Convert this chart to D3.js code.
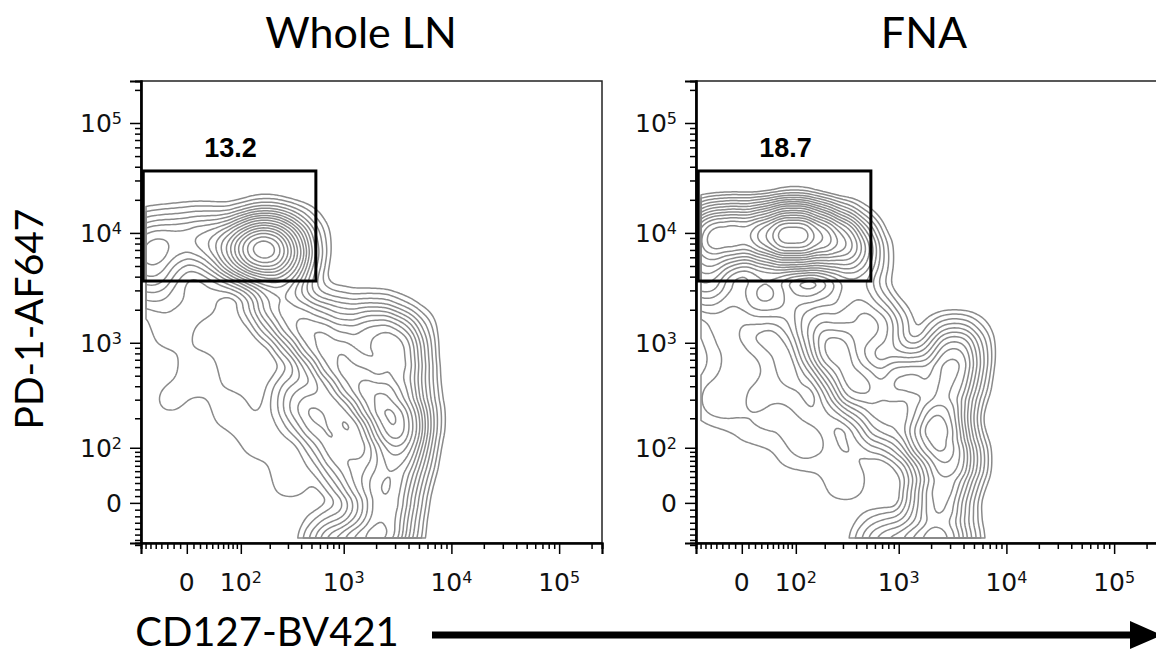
<!DOCTYPE html>
<html>
<head>
<meta charset="utf-8">
<script src="https://cdn.jsdelivr.net/npm/d3@7"></script>
<style>
  body { margin: 0; background: #fff; }
</style>
</head>
<body>
<svg id="chart"></svg>
<script>
// 1. Data
// 1.1. Axis ranges (fluorescence units) and ticks, logicle-like display
const cofactor = 70;
const xRange = [-80, 250000];
const yRange = [-66, 241000];
const majorTicks = [0, 100, 1000, 10000, 100000];
const majorBase = ["0", "10", "10", "10", "10"];
const majorExp = ["", "2", "3", "4", "5"];
const minorTicks = [
  -70, -60, -50, -40, -30, -20, -10,
  10, 20, 30, 40, 50, 60, 70, 80, 90,
  200, 300, 400, 500, 600, 700, 800, 900,
  2000, 3000, 4000, 5000, 6000, 7000, 8000, 9000,
  20000, 30000, 40000, 50000, 60000, 70000, 80000, 90000,
  200000
];

// 1.2. Panels
const titles = ["Whole LN", "FNA"];
const gateLabels = ["13.2", "18.7"];
const gateX = [-75, 550];
const gateY = [3650, 36600];

// 1.3. Population anchors (CD127, PD-1, weight)
const wholeLnX = [
  175, 125, 240, 85, 300, 36, -10, -61, -61, 349, 179,
  224, 349, 539, 829, 1273, 1950, 2690, 3190, 2690, 2420,
  2996, 3330, 3710, 1415, 744, 600, 389, 923, 1415, 1950, 3330,
  829, 1577, 2420,
  -26, 20, 74, -26, 159, 20, -52, 313
];
const wholeLnY = [
  6300, 7770, 7770, 6300, 5110, 8630, 8630, 7770, 4415, 8630, 10200,
  2455, 1617, 1062, 698, 457, 299, 172, 83, 19, -25,
  860, 457, 193, 1062, 1617, 193, 299, 95, 35, 1455, 1180,
  -70, -70, -70,
  1310, 565, 240, 299, 121, 2455, 3030, 35
];
const wholeLnW = [
  10, 6, 5, 4, 4, 3, 2, 3, 2, 2, 3,
  3, 3.5, 4, 5, 6, 7, 7, 6, 5, 4,
  5, 5, 5, 3, 2, 3, 2, 3, 3, 2.5, 2,
  3, 4, 3,
  0.4, 0.4, 0.4, 0.3, 0.4, 0.4, 0.5, 0.4
];

const fnaX = [
  92, 45, 167, 280, 4.5, -34, -61, 389, -61, 36, 97,
  250, 407, 600, 1143, 2420, 2996, 3330, 2996, 2420, 1752, 744, 159, 389,
  744, 1577, 2690,
  -26, 20, 74, -26, 159, -52, 313, -43, 20, -18, 97
];
const fnaY = [
  9170, 9170, 9170, 8630, 9600, 9600, 8630, 6300, 4100, 2840, 11800,
  860, 412, 1310, 457, 193, 457, 860, 72, 4.4, 121, 193, 1617, 2455,
  -70, -70, -70,
  1310, 565, 240, 299, 121, 2455, 35, 299, 172, 698, 95
];
const fnaW = [
  10, 7, 7, 5, 5, 5, 4, 3, 3, 2, 3,
  5, 5, 3, 5, 7, 5, 4, 6, 5, 4, 3, 2, 2,
  2, 3, 4,
  0.4, 0.4, 0.4, 0.3, 0.4, 0.5, 0.4, 0.4, 0.35, 0.3, 0.3
];

// contour levels as fraction of peak density
const levels = [0.012, 0.025, 0.045, 0.07, 0.1, 0.135, 0.175, 0.22, 0.27,
  0.33, 0.4, 0.47, 0.55, 0.63, 0.72, 0.82, 0.92];

// 2. SVG setup
const W = 1156, H = 662;
const svg = d3.select("#chart").attr("width", W).attr("height", H);

const panelLeft = [141, 696];
const panelTop = 81;
const panelW = 461, panelH = 462;

const tf = v => Math.asinh(v / cofactor);
const x = d3.scaleLinear().domain(xRange.map(tf)).range([0, panelW]);
const y = d3.scaleLinear().domain(yRange.map(tf)).range([panelH, 0]);

const labelFont = "'DejaVu Sans', sans-serif";
const bigFont = "Lato, 'Open Sans', sans-serif";

// 3. Panel drawing
function drawPanel(i, xs, ys, ws) {
  const g = svg.append("g")
    .attr("transform", `translate(${panelLeft[i]},${panelTop})`);

  // 3.1. Contours
  const pts = xs.map((d, k) => ({ x: d, y: ys[k], w: ws[k] }));
  const density = d3.contourDensity()
    .x(d => x(tf(d.x)))
    .y(d => y(tf(d.y)))
    .weight(d => d.w)
    .size([panelW, panelH])
    .cellSize(2)
    .bandwidth(16);
  const contours = density.contours(pts);
  const path = d3.geoPath(
    d3.geoIdentity().clipExtent([[5, 0], [panelW, panelH - 5]])
  );

  g.append("g")
    .selectAll("path")
    .data(levels.map(f => contours(f * contours.max)))
    .join("path")
    .attr("d", path)
    .attr("fill", "none")
    .attr("stroke", "#8a8a8a")
    .attr("stroke-width", 1.5)
    .attr("stroke-linejoin", "round");

  // 3.2. Frame
  g.append("rect")
    .attr("width", panelW).attr("height", panelH)
    .attr("fill", "none").attr("stroke", "#222").attr("stroke-width", 1.5);

  // 3.3. Axes
  const xAxisMinor = d3.axisBottom(x).tickValues(minorTicks.map(tf))
    .tickSize(6).tickFormat("");
  const xAxisMajor = d3.axisBottom(x).tickValues(majorTicks.map(tf))
    .tickSize(11).tickFormat("");
  const yAxisMinor = d3.axisLeft(y).tickValues(minorTicks.map(tf))
    .tickSize(6).tickFormat("");
  const yAxisMajor = d3.axisLeft(y).tickValues(majorTicks.map(tf))
    .tickSize(11).tickFormat("");

  [xAxisMinor, xAxisMajor].forEach(ax => {
    g.append("g").attr("transform", `translate(0,${panelH})`).call(ax)
      .call(s => s.select(".domain").attr("stroke-width", 2.2))
      .call(s => s.selectAll(".tick line").attr("stroke-width", 1.5));
  });
  [yAxisMinor, yAxisMajor].forEach(ax => {
    g.append("g").call(ax)
      .call(s => s.select(".domain").attr("stroke-width", 2.2))
      .call(s => s.selectAll(".tick line").attr("stroke-width", 1.5));
  });

  // 3.4. Tick labels with superscripts
  majorTicks.forEach((t, k) => {
    const tx = g.append("text")
      .attr("x", x(tf(t)))
      .attr("y", panelH + 48)
      .attr("text-anchor", "middle")
      .attr("font-family", labelFont)
      .attr("font-size", 25)
      .attr("fill", "#111");
    tx.append("tspan").text(majorBase[k]);
    if (majorExp[k]) {
      tx.append("tspan").attr("dy", "-0.5em").attr("font-size", 16).text(majorExp[k]);
    }

    const ty = g.append("text")
      .attr("x", -19)
      .attr("y", y(tf(t)))
      .attr("dy", "0.38em")
      .attr("text-anchor", "end")
      .attr("font-family", labelFont)
      .attr("font-size", 25)
      .attr("fill", "#111");
    ty.append("tspan").text(majorBase[k]);
    if (majorExp[k]) {
      ty.append("tspan").attr("dy", "-0.5em").attr("font-size", 16).text(majorExp[k]);
    }
  });

  // 3.5. Gate
  const gx0 = x(tf(gateX[0])), gx1 = x(tf(gateX[1]));
  const gy0 = y(tf(gateY[1])), gy1 = y(tf(gateY[0]));
  g.append("rect")
    .attr("x", gx0).attr("y", gy0)
    .attr("width", gx1 - gx0).attr("height", gy1 - gy0)
    .attr("fill", "none").attr("stroke", "#000").attr("stroke-width", 3);
  g.append("text")
    .attr("x", (gx0 + gx1) / 2 + 1)
    .attr("y", gy0 - 14)
    .attr("text-anchor", "middle")
    .attr("font-family", "'Liberation Sans', Arial, sans-serif")
    .attr("font-weight", "bold")
    .attr("font-size", 27)
    .text(gateLabels[i]);
}

drawPanel(0, wholeLnX, wholeLnY, wholeLnW);
drawPanel(1, fnaX, fnaY, fnaW);

// 4. Titles and axis labels
const titleX = [361, 924];
titles.forEach((t, i) => {
  svg.append("text")
    .attr("x", titleX[i]).attr("y", 48)
    .attr("text-anchor", "middle")
    .attr("font-family", bigFont)
    .attr("font-size", 43)
    .attr("fill", "#000")
    .text(t);
});

svg.append("text")
  .attr("transform", "translate(43,319) rotate(-90)")
  .attr("text-anchor", "middle")
  .attr("font-family", bigFont)
  .attr("font-size", 39)
  .attr("fill", "#000")
  .text("PD-1-AF647");

svg.append("text")
  .attr("x", 267).attr("y", 646)
  .attr("text-anchor", "middle")
  .attr("font-family", bigFont)
  .attr("font-size", 40)
  .attr("fill", "#000")
  .text("CD127-BV421");

// 4.1. Arrow
svg.append("line")
  .attr("x1", 432).attr("x2", 1138)
  .attr("y1", 635).attr("y2", 635)
  .attr("stroke", "#000").attr("stroke-width", 7);
svg.append("path")
  .attr("d", "M1130,621 L1162,635 L1130,649 Z")
  .attr("fill", "#000");
</script>
</body>
</html>
